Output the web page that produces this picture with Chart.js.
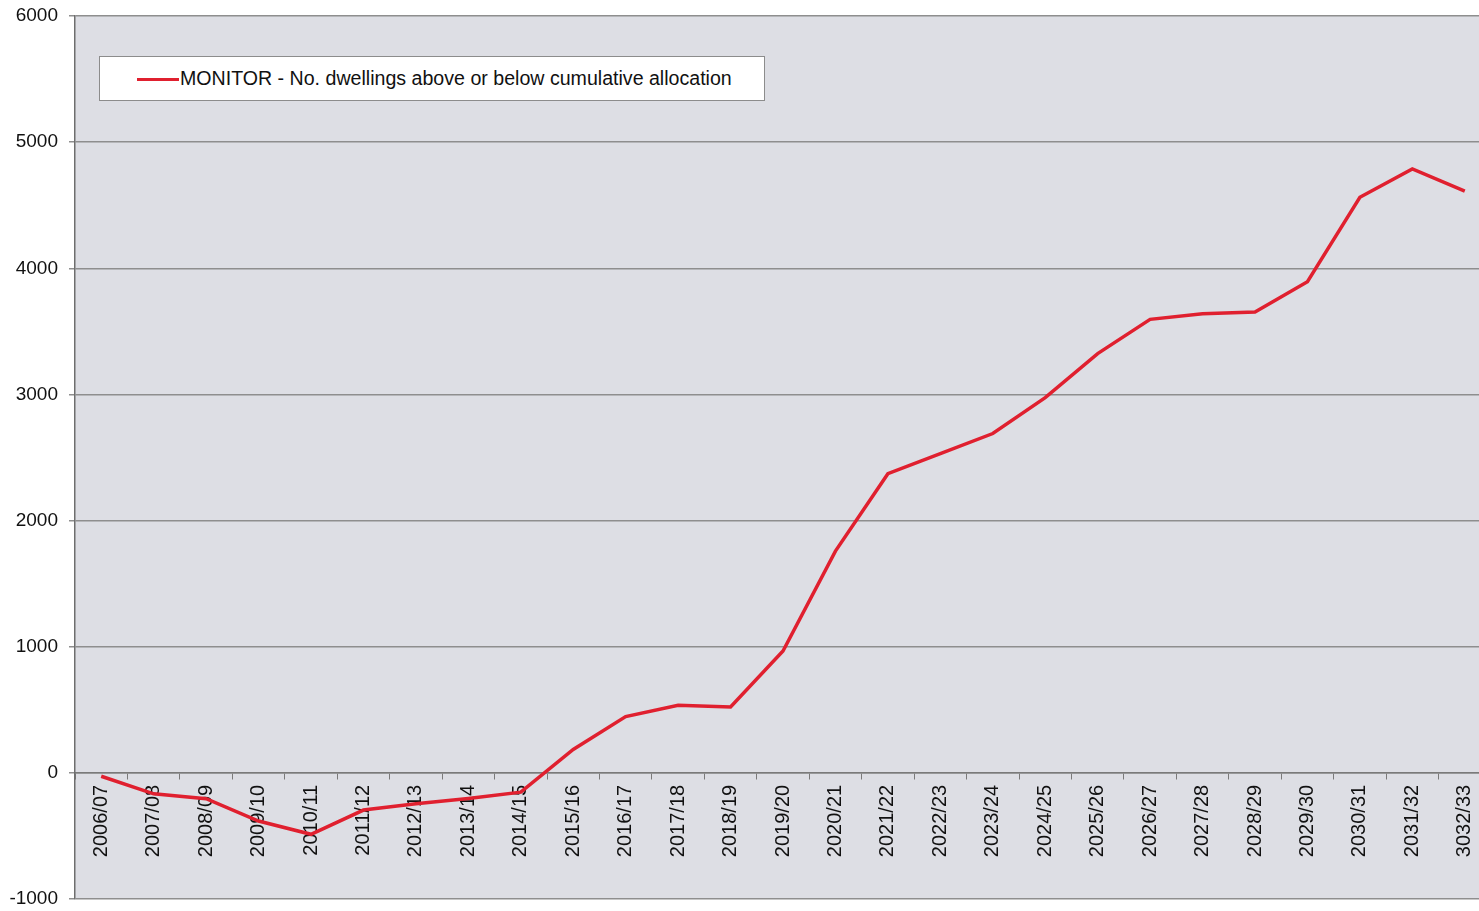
<!DOCTYPE html>
<html>
<head>
<meta charset="utf-8">
<script src="https://cdn.jsdelivr.net/npm/chart.js@4"></script>
<style>
  html, body { margin: 0; padding: 0; background: #fff; overflow: hidden; }
  #wrap { position: relative; width: 1479px; height: 911px; overflow: hidden; }
  #legend {
    position: absolute; left: 99px; top: 56px; width: 664px; height: 43px;
    background: #fff; border: 1px solid #8c8c8c;
    font-family: 'Liberation Sans', Arial, sans-serif; font-size: 19.6px; color: #111;
  }
  #legend .swatch { position: absolute; left: 37px; top: 21px; width: 42px; height: 3px; background: #e0202f; }
  #legend .txt { position: absolute; left: 80px; top: 10px; white-space: nowrap; }
</style>
</head>
<body>
<div id="wrap">
  <canvas id="chart" width="1495" height="911"></canvas>
  <div id="legend"><span class="swatch"></span><span class="txt">MONITOR - No. dwellings above or below cumulative allocation</span></div>
</div>
<script>
const years = ['2006/07', '2007/08', '2008/09', '2009/10', '2010/11', '2011/12', '2012/13', '2013/14', '2014/15',
  '2015/16', '2016/17', '2017/18', '2018/19', '2019/20', '2020/21', '2021/22', '2022/23', '2023/24', '2024/25',
  '2025/26', '2026/27', '2027/28', '2028/29', '2029/30', '2030/31', '2031/32', '3032/33'];
const monitor = [-27, -166, -205, -382, -487, -295, -245, -203, -153,
  186, 446, 536, 522, 966, 1758, 2372, 2531, 2690, 2974,
  3324, 3595, 3640, 3654, 3893, 4563, 4788, 4611];
const yTicks = [-1000, 0, 1000, 2000, 3000, 4000, 5000, 6000];
const seriesName = 'MONITOR - No. dwellings above or below cumulative allocation';

const fontFamily = "'Liberation Sans', Arial, sans-serif";

// grey plot background like the spreadsheet
const plotBg = {
  id: 'plotBg',
  beforeDraw(chart) {
    const a = chart.chartArea, ctx = chart.ctx;
    ctx.save();
    ctx.fillStyle = '#dddee4';
    ctx.fillRect(a.left, a.top, a.right - a.left, a.bottom - a.top);
    ctx.restore();
  }
};

new Chart(document.getElementById('chart'), {
  type: 'line',
  data: {
    labels: years,
    datasets: [{
      label: seriesName,
      data: monitor,
      borderColor: '#e0202f',
      borderWidth: 3.5,
      pointRadius: 0,
      tension: 0,
      fill: false
    }]
  },
  options: {
    responsive: false,
    animation: false,
    layout: { padding: { top: 16, bottom: 12, right: 4, left: 0 } },
    plugins: {
      legend: { display: false },
      tooltip: { enabled: false }
    },
    scales: {
      x: {
        position: { y: 0 },
        offset: true,
        grid: { offset: true, drawOnChartArea: false, drawTicks: true, tickLength: 6, color: '#7a7a7a' },
        border: { display: true, color: '#7a7a7a', width: 1.5 },
        ticks: { color: '#111', font: { family: fontFamily, size: 20 }, minRotation: 90, maxRotation: 90, padding: 6, autoSkip: false }
      },
      y: {
        min: -1000,
        max: 6000,
        afterFit(s) { s.width = 75; s.paddingTop = 0; s.paddingBottom = 0; },
        afterBuildTicks(s) { s.ticks = yTicks.map(v => ({ value: v })); },
        grid: { color: '#8e8e8e', lineWidth: 1.5, tickLength: 6 },
        border: { display: true, color: '#6e6e6e', width: 1.5 },
        ticks: { color: '#111', font: { family: fontFamily, size: 19 }, padding: 11, callback: v => String(v) }
      }
    }
  },
  plugins: [plotBg]
});
</script>
</body>
</html>
